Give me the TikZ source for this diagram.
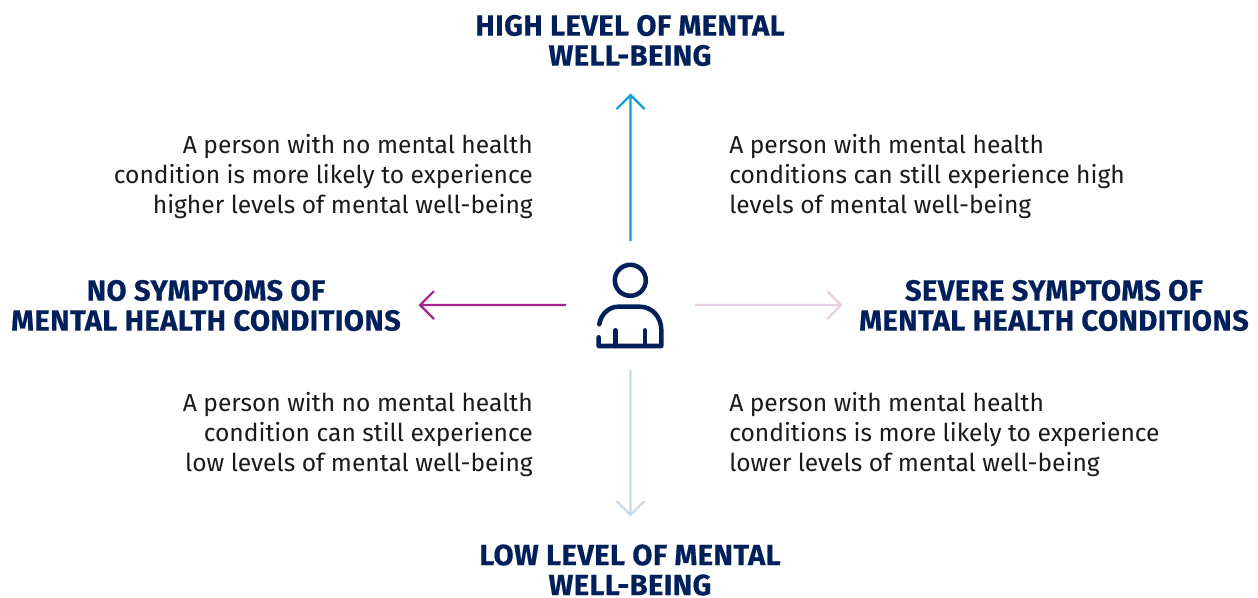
\documentclass[tikz,border=0pt]{standalone}
\usepackage{fontspec}
\setmainfont{Fira Sans}
\newfontfamily\headfont{Fira Sans}[UprightFont=* Bold,FakeBold=0.5,LetterSpace=1.5]
\definecolor{navy}{HTML}{00205C}
\definecolor{arrowblue}{HTML}{0F9ADB}
\definecolor{arrowpale}{HTML}{C9DAEC}
\definecolor{arrowmag}{HTML}{A6228E}
\definecolor{arrowpink}{HTML}{E6CFE2}
\definecolor{bodytxt}{HTML}{1A1A1A}
\tikzset{
 px/.style={x=0.75pt,y=-0.75pt},
 head/.style={font=\headfont\fontsize{21.85pt}{22.5pt}\selectfont,text=navy,align=center,inner sep=0pt},
 bodyl/.style={font=\fontsize{18.45pt}{22.5pt}\selectfont,text=bodytxt,align=left,inner sep=0pt,anchor=west},
 bodyr/.style={font=\fontsize{18.45pt}{22.5pt}\selectfont,text=bodytxt,align=right,inner sep=0pt,anchor=east},
 conn/.style={line width=1.6pt},
 icon/.style={draw=navy,line width=3.4pt,line cap=round,line join=round},
}
\begin{document}
\begin{tikzpicture}[px]
\useasboundingbox (0,0) rectangle (1258,597);
\node[head] (top) at (630,40.5) {HIGH LEVEL OF MENTAL\\WELL-BEING};
\node[head] (bot) at (630,570) {LOW LEVEL OF MENTAL\\WELL-BEING};
\node[head] (left) at (206,305.5) {NO SYMPTOMS OF\\MENTAL HEALTH CONDITIONS};
\node[head] (right) at (1054,305.5) {SEVERE SYMPTOMS OF\\MENTAL HEALTH CONDITIONS};
\node[bodyr] (tl) at (533,176.5) {A person with no mental health\\condition is more likely to experience\\higher levels of mental well-being};
\node[bodyl] (tr) at (729,176.5) {A person with mental health\\conditions can still experience high\\levels of mental well-being};
\node[bodyr] (bl) at (533,434.5) {A person with no mental health\\condition can still experience\\low levels of mental well-being};
\node[bodyl] (br) at (729,434.5) {A person with mental health\\conditions is more likely to experience\\lower levels of mental well-being};
\coordinate (a1s) at (630.5,241); \coordinate (a1e) at (630.5,95);
\coordinate (a2s) at (630.5,370); \coordinate (a2e) at (630.5,515);
\coordinate (a3s) at (566,305); \coordinate (a3e) at (420,305);
\coordinate (a4s) at (695,305); \coordinate (a4e) at (841,305);
\draw[conn,arrowblue] (a1s)--(a1e) ++(-14,14) -- (a1e) -- ++(14,14);
\draw[conn,arrowpale] (a2s)--(a2e) ++(-14,-14) -- (a2e) -- ++(14,-14);
\draw[conn,arrowmag] (a3s)--(a3e) ++(14,-14) -- (a3e) -- ++(14,14);
\draw[conn,arrowpink] (a4s)--(a4e) ++(-14,-14) -- (a4e) -- ++(-14,14);
\draw[icon] (630.3,280.3) circle (15.5);
\draw[icon] (599.3,324.3) .. controls (601,314) and (609,306.7) .. (618,306.7) -- (640,306.7) .. controls (652,306.7) and (661.3,317) .. (661.3,330) -- (661.3,346) -- (598.7,346) -- (598.7,337.3);
\draw[icon] (615.3,330.3) -- (615.3,346) (645,330.3) -- (645,346);
\end{tikzpicture}
\end{document}
